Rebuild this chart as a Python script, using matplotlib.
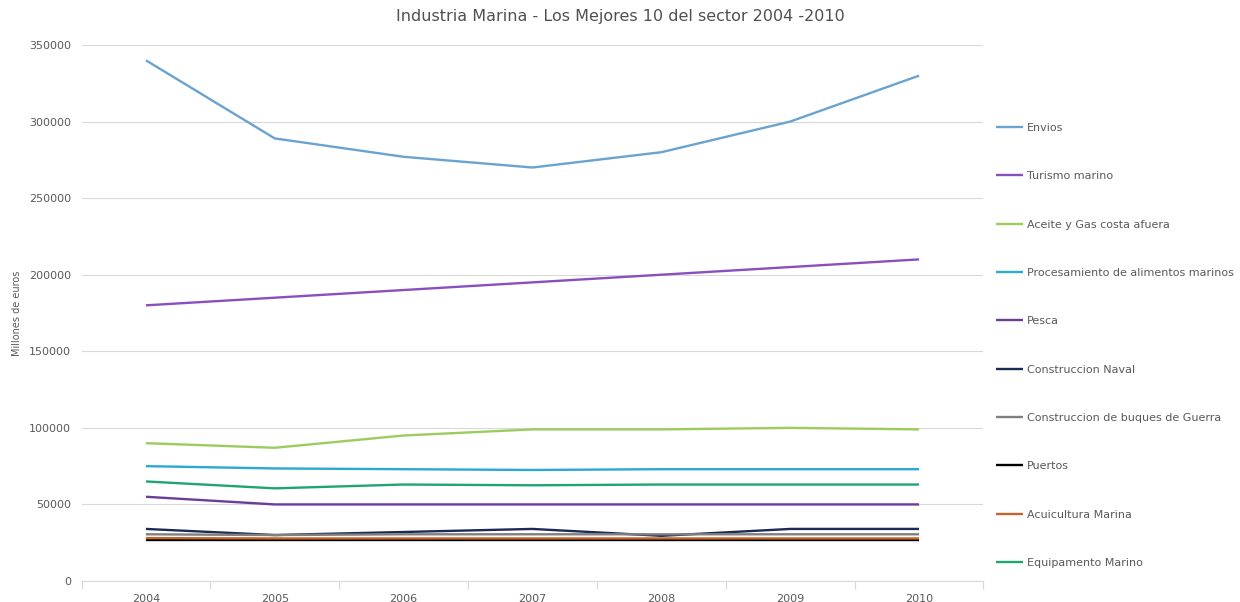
import matplotlib
matplotlib.use("Agg")
import matplotlib.pyplot as plt
from matplotlib.ticker import FixedLocator, NullFormatter

years = ["2004", "2005", "2006", "2007", "2008", "2009", "2010"]

envios = [340000, 289000, 277000, 270000, 280000, 300000, 330000]
turismo = [180000, 185000, 190000, 195000, 200000, 205000, 210000]
aceite = [90000, 87000, 95000, 99000, 99000, 100000, 99000]
procesamiento = [75000, 73500, 73000, 72500, 73000, 73000, 73000]
pesca = [55000, 50000, 50000, 50000, 50000, 50000, 50000]
naval = [34000, 30000, 32000, 34000, 29500, 34000, 34000]
guerra = [30500, 30000, 30500, 30500, 30500, 30500, 30500]
puertos = [27000, 27000, 27000, 27000, 27000, 27000, 27000]
acuicultura = [28000, 27800, 27800, 27800, 27800, 27800, 27800]
equipamento = [65000, 60500, 63000, 62500, 63000, 63000, 63000]

series = [
    ("Envios", envios, "#6aa3cf"),
    ("Turismo marino", turismo, "#8a4fbf"),
    ("Aceite y Gas costa afuera", aceite, "#9ccb5e"),
    ("Procesamiento de alimentos marinos", procesamiento, "#2aa8d6"),
    ("Pesca", pesca, "#6a3d9a"),
    ("Construccion Naval", naval, "#1c2b55"),
    ("Construccion de buques de Guerra", guerra, "#7f7f7f"),
    ("Puertos", puertos, "#000000"),
    ("Acuicultura Marina", acuicultura, "#c4632a"),
    ("Equipamento Marino", equipamento, "#1fa56e"),
]

fig = plt.figure(figsize=(12.4, 6.02), dpi=100)
ax = fig.add_axes([81.5 / 1240, 1 - 581 / 602, (983.5 - 81.5) / 1240, 536 / 602])

x = list(range(len(years)))
handles = []
for name, vals, col in series:
    h, = ax.plot(x, vals, color=col, lw=1.7, label=name, solid_capstyle="butt")
    handles.append(h)

ax.set_xlim(-0.5, len(years) - 0.5)
ax.set_ylim(0, 350000)
ax.set_yticks(range(0, 350001, 50000))
ax.set_xticks(x)
ax.set_xticklabels(years)
ax.xaxis.set_minor_locator(FixedLocator([i - 0.5 for i in range(len(years) + 1)]))
ax.xaxis.set_minor_formatter(NullFormatter())
ax.tick_params(axis="x", which="major", length=0, pad=9, labelsize=8, labelcolor="#595959")
ax.tick_params(axis="x", which="minor", length=6, color="#d9d9d9", width=0.8)
ax.tick_params(axis="y", length=0, pad=7.5, labelsize=8, labelcolor="#595959")

ax.grid(axis="y", color="#d9d9d9", lw=0.8)
ax.set_axisbelow(True)
for s in ["top", "right", "left"]:
    ax.spines[s].set_visible(False)
ax.spines["bottom"].set_color("#d9d9d9")
ax.spines["bottom"].set_linewidth(0.8)

ax.set_ylabel("Millones de euros", fontsize=7, color="#595959", labelpad=5)
fig.text(0.5, 1 - 16 / 602, "Industria Marina - Los Mejores 10 del sector 2004 -2010",
         ha="center", va="center", fontsize=11.5, color="#505050")

leg = fig.legend(handles=handles, loc="upper left", bbox_to_anchor=(996 / 1240, 1 - 123 / 602),
                 frameon=False, fontsize=8, labelcolor="#595959", handlelength=2.4,
                 handletextpad=0.35, labelspacing=3.45, borderpad=0, borderaxespad=0)

fig.savefig("out.png", dpi=100, facecolor="white")
